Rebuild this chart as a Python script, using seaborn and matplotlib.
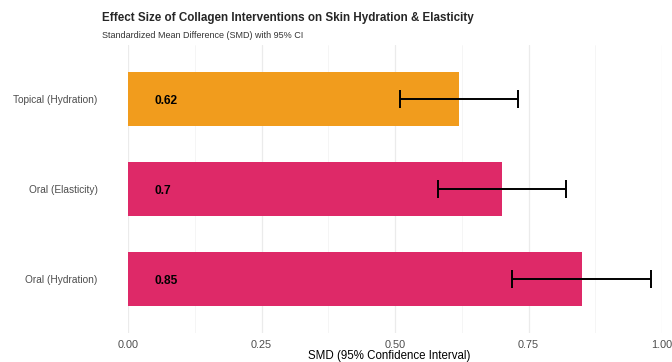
import pandas as pd
import matplotlib.pyplot as plt
import seaborn as sns

# data
categories = ['Topical (Hydration)', 'Oral (Elasticity)', 'Oral (Hydration)']
smd = [0.62, 0.70, 0.85]
ci_low = [0.51, 0.58, 0.72]
ci_high = [0.73, 0.82, 0.98]
route = ['Topical', 'Oral', 'Oral']
palette = {'Topical': '#F19C1D', 'Oral': '#DE2968'}

df = pd.DataFrame({'label': categories, 'smd': smd, 'lo': ci_low, 'hi': ci_high, 'route': route})

sns.set_theme(style='white')
plt.rcParams['font.family'] = ['Liberation Sans', 'DejaVu Sans']

fig = plt.figure(figsize=(6.72, 3.62), dpi=100)
ax = fig.add_axes([128 / 672, 29 / 362, 534 / 672, 288 / 362])

sns.barplot(data=df, x='smd', y='label', hue='route', palette=palette,
            order=categories, width=0.6, dodge=False, legend=False, ax=ax,
            saturation=1, edgecolor='none', zorder=2)

# confidence intervals
ypos = list(range(len(categories)))
ax.errorbar(df['smd'], ypos,
            xerr=[df['smd'] - df['lo'], df['hi'] - df['smd']],
            fmt='none', ecolor='black', elinewidth=1.4, capsize=6.3, capthick=1.4, zorder=3)

# value labels inside bars
for i, v in enumerate(smd):
    ax.text(0.05, i, f'{v:g}', ha='left', va='center_baseline', fontsize=8.6,
            fontweight='bold', color='black', zorder=4)

ax.set_xlim(0, 1.0)
ax.set_ylim(len(categories) - 0.4, -0.6)
ax.set_xticks([0, 0.25, 0.5, 0.75, 1.0])
ax.set_xticklabels(['0.00', '0.25', '0.50', '0.75', '1.00'])
ax.set_xticks([0.125, 0.375, 0.625, 0.875], minor=True)
ax.grid(axis='x', which='major', color='#EBEBEB', linewidth=0.9, zorder=0)
ax.grid(axis='x', which='minor', color='#F2F2F2', linewidth=0.5, zorder=0)
ax.grid(axis='y', visible=False)
ax.set_axisbelow(True)
sns.despine(ax=ax, left=True, bottom=True)
ax.tick_params(axis='both', length=0, labelcolor='#4D4D4D')
ax.tick_params(axis='y', pad=22, labelsize=7.3)
ax.tick_params(axis='x', pad=5, labelsize=7.8)
ax.tick_params(axis='x', which='minor', length=0)
ax.set_xlabel('SMD (95% Confidence Interval)', fontsize=8.3, color='black', va='center')
ax.xaxis.set_label_coords(0.489, -0.08)
ax.set_ylabel('')

fig.text(102 / 672, 1 - 18.5 / 362, 'Effect Size of Collagen Interventions on Skin Hydration & Elasticity',
         fontsize=8.4, fontweight='bold', va='center', ha='left')
fig.text(102 / 672, 1 - 35 / 362, 'Standardized Mean Difference (SMD) with 95% CI',
         fontsize=6.5, color='#333333', va='center', ha='left')

fig.savefig('out.png', dpi=100)
